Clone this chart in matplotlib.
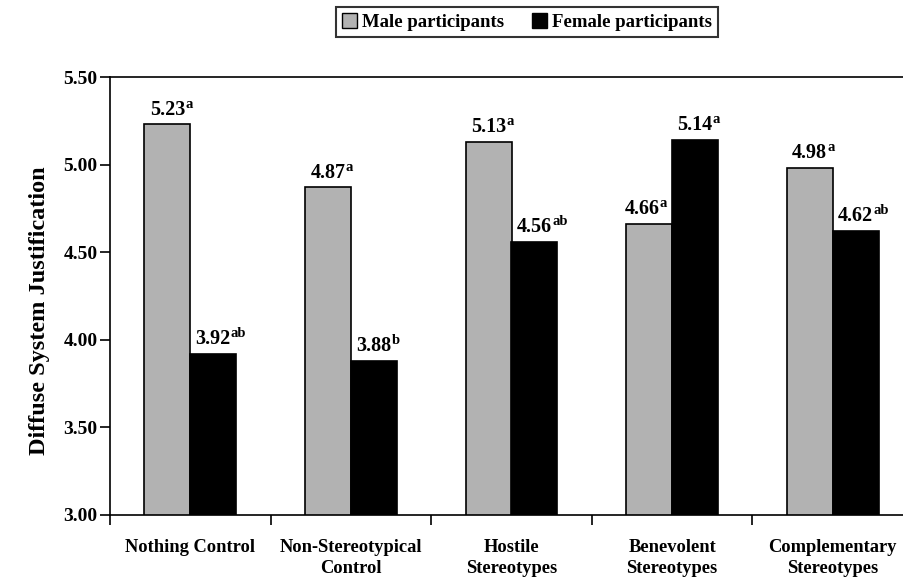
import matplotlib
matplotlib.use("Agg")
import matplotlib.pyplot as plt
from matplotlib.patches import Patch
import numpy as np

categories = ["Nothing Control", "Non-Stereotypical\nControl", "Hostile\nStereotypes",
              "Benevolent\nStereotypes", "Complementary\nStereotypes"]
male = [5.23, 4.87, 5.13, 4.66, 4.98]
female = [3.92, 3.88, 4.56, 5.14, 4.62]
male_sup = ["a", "a", "a", "a", "a"]
female_sup = ["ab", "b", "ab", "a", "ab"]
yticks = [3.00, 3.50, 4.00, 4.50, 5.00, 5.50]

plt.rcParams['font.family'] = ['Liberation Serif', 'DejaVu Serif']
plt.rcParams['font.weight'] = 'bold'

fig = plt.figure(figsize=(9.04, 5.88), dpi=100)
ax = fig.add_axes([110/904, (588-514.5)/588, 803/904, 437.5/588])

x = np.arange(len(categories))
w = 0.286
gray = "#b2b2b2"
ax.bar(x - w/2, male, w, color=gray, edgecolor="black", linewidth=1.2, zorder=2)
ax.bar(x + w/2, female, w, color="black", edgecolor="black", linewidth=1.2, zorder=2)

ax.set_ylim(3.0, 5.5)
ax.set_xlim(-0.5, len(categories) - 0.5)
ax.set_yticks(yticks)
ax.set_yticklabels([f"{v:.2f}" for v in yticks], fontsize=14, fontweight='bold')
ax.set_xticks(np.arange(-0.5, len(categories), 1.0))
ax.set_xticklabels([])
ax.set_xticks(x, minor=True)
ax.set_xticklabels(categories, minor=True, fontsize=13.3, fontweight='bold', linespacing=1.3)
ax.tick_params(axis='x', which='minor', length=0, pad=18)
ax.tick_params(axis='x', which='major', length=7, width=1.2, direction='out')
ax.tick_params(axis='y', length=7, width=1.2, direction='out', pad=2)
for s in ax.spines.values():
    s.set_linewidth(1.2)

def label(xc, val, sup, dx=0):
    t = ax.annotate(f"{val:.2f}", xy=(xc, val), xytext=(dx, 7), textcoords="offset points",
                    ha="center", va="baseline", fontsize=14.5, fontweight="bold", zorder=4)
    ax.annotate(sup, xy=(1, 0.6), xycoords=t, xytext=(0, 0), textcoords="offset points",
                ha="left", va="baseline", fontsize=10.5, fontweight="bold", zorder=4)

for i in range(len(categories)):
    # nudge a male label left when the neighbouring female bar is taller
    dx = -5 if female[i] > male[i] else 0
    label(x[i] - w/2, male[i], male_sup[i], dx)
    label(x[i] + w/2, female[i], female_sup[i])

fig.text(40/904, 1 - 311/588, "Diffuse System Justification", rotation=90,
         ha="center", va="center", fontsize=17.5, fontweight="bold")

handles = [Patch(facecolor=gray, edgecolor="black", linewidth=1.0),
           Patch(facecolor="black", edgecolor="black", linewidth=1.0)]
leg = fig.legend(handles, ["Male participants", "Female participants"], ncol=2,
                 loc="center", bbox_to_anchor=(527/904, 1 - 22/588), frameon=True,
                 fancybox=False, edgecolor="black", handlelength=0.8,
                 handleheight=0.8, handletextpad=0.25, columnspacing=1.5,
                 borderpad=0.33, prop={'weight': 'bold', 'size': 13.5})
leg.get_frame().set_linewidth(1.5)

fig.savefig("out.png", dpi=100)
